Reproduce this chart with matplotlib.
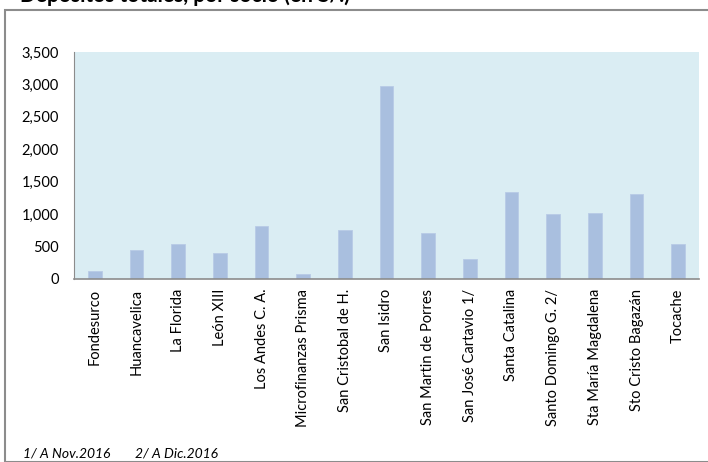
import numpy as np
import matplotlib.pyplot as plt
from matplotlib.patches import Rectangle
from matplotlib.ticker import FuncFormatter

plt.rcParams['font.family'] = ['Lato', 'DejaVu Sans']

entidades = ["Fondesurco", "Huancavelica", "La Florida", "León XIII", "Los Andes C. A.",
             "Microfinanzas Prisma", "San Cristobal de H.", "San Isidro", "San Martin de Porres",
             "San José Cartavio 1/", "Santa Catalina", "Santo Domingo G. 2/", "Sta María Magdalena",
             "Sto Cristo Bagazán", "Tocache"]
valores = [118, 443, 542, 407, 810, 82, 763, 2973, 706, 314, 1347, 1001, 1011, 1306, 542]
yticks = [0, 500, 1000, 1500, 2000, 2500, 3000, 3500]

fig = plt.figure(figsize=(7.08, 4.62), dpi=100)
ax = fig.add_axes([74/708, 1 - 279/462, 625/708, 227/462])

x = np.arange(len(entidades))
ax.bar(x, valores, width=0.33, color='#a9bfdf', edgecolor='#b8cbe6', linewidth=0.6, zorder=2)
ax.set_facecolor('#daedf3')
ax.set_xlim(-0.5, len(entidades) - 0.5)
ax.set_ylim(0, 3500)
ax.set_yticks(yticks)
ax.yaxis.set_major_formatter(FuncFormatter(lambda v, p: '{:,.0f}'.format(v)))
ax.set_xticks(x)
ax.set_xticklabels(entidades, rotation=90, fontsize=10.5)
ax.tick_params(axis='y', labelsize=10.5, length=0, pad=11)
ax.tick_params(axis='x', length=0, pad=7)
for s in ['top', 'right']:
    ax.spines[s].set_visible(False)
ax.spines['left'].set_color('#8c8c8c')
ax.spines['bottom'].set_color('#8c8c8c')
ax.spines['bottom'].set_linewidth(1.2)

# outer chart frame
fig.patches.append(Rectangle((5/708, 0), 1, 1 - 10/462, transform=fig.transFigure,
                             fill=False, edgecolor='#8c8c8c', linewidth=1.5))

# title (cut off at top in the original)
fig.text(20/708, 1 - 1.5/462, "Depósitos totales, por socio (en S/.)", fontsize=15, fontweight='bold',
         va='baseline', ha='left')

fig.text(23/708, 3/462, "1/ A Nov.2016", fontsize=10, style='italic', va='bottom', ha='left')
fig.text(135/708, 3/462, "2/ A Dic.2016", fontsize=10, style='italic', va='bottom', ha='left')

fig.savefig('out.png', dpi=100)
